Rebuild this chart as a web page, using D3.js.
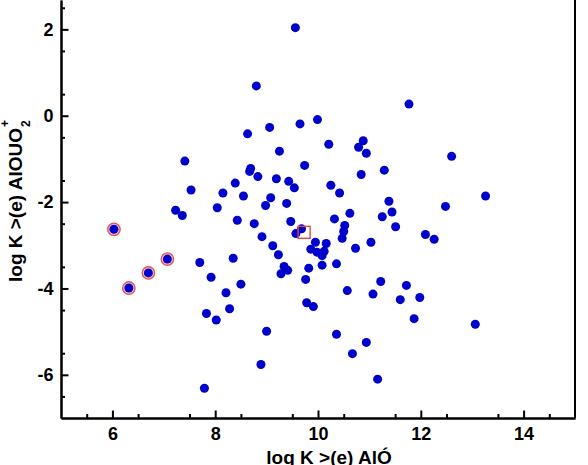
<!DOCTYPE html>
<html>
<head>
<meta charset="utf-8">
<script src="https://cdn.jsdelivr.net/npm/d3@7/dist/d3.min.js"></script>
<style>
    body { margin: 0; background: #fff; }
    text { font-family: "Liberation Sans", Arial, sans-serif; font-weight: bold; }
</style>
</head>
<body>
<div id="chart"></div>
<script>
// log K values of the surface complexes
var xValues = [9.56, 8.80, 11.77, 9.99, 9.65, 9.06, 8.63, 10.21, 10.88, 10.79, 10.94, 9.25, 7.41, 12.60,
    9.74, 11.29, 10.84, 8.69, 8.67, 8.83, 9.19, 9.43, 9.54, 8.39, 10.25, 10.42, 7.53, 8.15, 8.55, 9.08,
    11.38, 13.26, 9.39, 7.23, 7.36, 8.04, 8.98, 10.62, 11.44, 12.48, 8.43, 8.76, 9.47, 10.32, 10.52,
    10.50, 10.47, 11.25, 11.51, 6.03, 8.91, 9.57, 9.68, 12.09, 12.26, 9.95, 10.16, 9.86, 9.98, 10.12,
    10.08, 9.12, 9.23, 10.73, 11.03, 10.08, 10.36, 9.82, 7.07, 7.70, 8.35, 9.34, 9.41, 9.28, 6.70,
    7.92, 9.76, 6.32, 8.50, 11.22, 11.72, 8.21, 10.57, 11.07, 11.60, 11.98, 7.83, 8.28, 8.02, 9.78,
    9.91, 11.87, 13.06, 9.00, 10.36, 10.94, 10.67, 8.89, 11.16, 7.79];
var yValues = [2.04, 0.69, 0.27, -0.09, -0.19, -0.27, -0.42, -0.66, -0.58, -0.73, -0.87, -0.82, -1.05, -0.94,
    -1.15, -1.26, -1.36, -1.22, -1.29, -1.41, -1.46, -1.52, -1.67, -1.56, -1.61, -1.79, -1.72, -1.79, -1.86, -1.90,
    -1.98, -1.86, -2.03, -2.19, -2.31, -2.13, -2.08, -2.26, -2.23, -2.10, -2.42, -2.50, -2.45, -2.39, -2.54,
    -2.68, -2.84, -2.34, -2.57, -2.63, -2.80, -2.73, -2.62, -2.75, -2.86, -2.93, -2.96, -3.09, -3.16, -3.14,
    -3.24, -3.01, -3.22, -3.07, -2.93, -3.46, -3.43, -3.53, -3.32, -3.40, -3.30, -3.49, -3.58, -3.66, -3.64,
    -3.74, -3.79, -3.99, -3.90, -3.84, -3.93, -4.10, -4.05, -4.13, -4.26, -4.21, -4.58, -4.47, -4.73, -4.33,
    -4.42, -4.70, -4.83, -4.99, -5.06, -5.25, -5.51, -5.76, -6.10, -6.31];

// points circled in red
var flaggedX = [6.03, 6.32, 6.70, 7.07];
var flaggedY = [-2.63, -3.99, -3.64, -3.32];

// open square marker
var refX = [9.73];
var refY = [-2.70];

var xTicks = [6, 8, 10, 12, 14];
var yTicks = [-6, -4, -2, 0, 2];

var w = 588, h = 465;
var margin = { top: 0, right: 13, bottom: 47, left: 61 };
var width = w - margin.left - margin.right;
var height = h - margin.top - margin.bottom;

var svg = d3.select("#chart")
    .append("svg")
    .attr("width", w)
    .attr("height", h)
    .append("g")
    .attr("transform", `translate(${margin.left},${margin.top})`);

// --- Scales ---
var xScale = d3.scaleLinear().domain([5, 15]).range([0, width]);
var yScale = d3.scaleLinear().domain([-7, 2.68]).range([height, 0]);

var points = xValues.map((x, i) => ({ x: x, y: yValues[i] }));
var flagged = flaggedX.map((x, i) => ({ x: x, y: flaggedY[i] }));
var refs = refX.map((x, i) => ({ x: x, y: refY[i] }));

// plain hyphen for negatives, like the original
var fmt = d => String(d);

// --- Axes ---
var minorX = d3.range(5.5, 15, 1);
var minorY = d3.range(-6.5, 2.6, 1);

svg.append("g")
    .attr("transform", `translate(0,${height})`)
    .call(d3.axisBottom(xScale).tickValues(xTicks).tickFormat(fmt).tickSizeInner(-7.5).tickSizeOuter(0).tickPadding(9));

svg.append("g")
    .attr("transform", `translate(0,${height})`)
    .call(d3.axisBottom(xScale).tickValues(minorX).tickSizeInner(-4).tickSizeOuter(0).tickFormat(""));

svg.append("g")
    .call(d3.axisLeft(yScale).tickValues(yTicks).tickFormat(fmt).tickSizeInner(-7.5).tickSizeOuter(0).tickPadding(7.5));

svg.append("g")
    .call(d3.axisLeft(yScale).tickValues(minorY).tickSizeInner(-4).tickSizeOuter(0).tickFormat(""));

svg.selectAll(".domain").attr("stroke", "#000").attr("stroke-width", 2);
svg.selectAll(".tick line").attr("stroke", "#000").attr("stroke-width", 2);
svg.selectAll(".tick text")
    .attr("fill", "#000")
    .style("font-size", "18px")
    .style("font-family", "'Liberation Sans', Arial, sans-serif")
    .style("font-weight", "bold");

// right border of the frame
svg.append("line")
    .attr("x1", width).attr("x2", width)
    .attr("y1", -5).attr("y2", height)
    .attr("stroke", "#000")
    .attr("stroke-width", 2);

// --- Axis titles ---
svg.append("text")
    .attr("x", 329 - margin.left)
    .attr("y", 464)
    .attr("text-anchor", "middle")
    .style("font-size", "19px")
    .attr("fill", "#000")
    .text("log K >(e) AlÓ");

var yTitle = svg.append("g")
    .attr("transform", `translate(${22 - margin.left},282) rotate(-90)`);

var yMain = yTitle.append("text")
    .attr("x", 0)
    .attr("y", 0)
    .style("font-size", "19px")
    .attr("fill", "#000")
    .text("log K >(e) AlOUO");

var titleLen = yMain.node().getComputedTextLength();

yTitle.append("text")
    .attr("x", titleLen + 1)
    .attr("y", 8)
    .style("font-size", "12px")
    .attr("fill", "#000")
    .text("2");

yTitle.append("text")
    .attr("x", titleLen + 1)
    .attr("y", -13)
    .style("font-size", "12px")
    .attr("fill", "#000")
    .text("+");

// --- Red rings behind flagged points ---
svg.append("g")
    .selectAll("circle")
    .data(flagged)
    .enter().append("circle")
    .attr("cx", d => xScale(d.x))
    .attr("cy", d => yScale(d.y))
    .attr("r", 6.2)
    .attr("fill", "#f3c8d0")
    .attr("stroke", "#e05656")
    .attr("stroke-width", 1.4);

// --- Dots ---
svg.append("g")
    .selectAll("circle")
    .data(points)
    .enter().append("circle")
    .attr("cx", d => xScale(d.x))
    .attr("cy", d => yScale(d.y))
    .attr("r", 4.5)
    .attr("fill", "#0000cc");

// --- Reference square ---
svg.append("g")
    .selectAll("rect")
    .data(refs)
    .enter().append("rect")
    .attr("x", d => xScale(d.x) - 6)
    .attr("y", d => yScale(d.y) - 6)
    .attr("width", 12)
    .attr("height", 12)
    .attr("fill", "none")
    .attr("stroke", "#e04848")
    .attr("stroke-width", 1.4);
</script>
</body>
</html>
